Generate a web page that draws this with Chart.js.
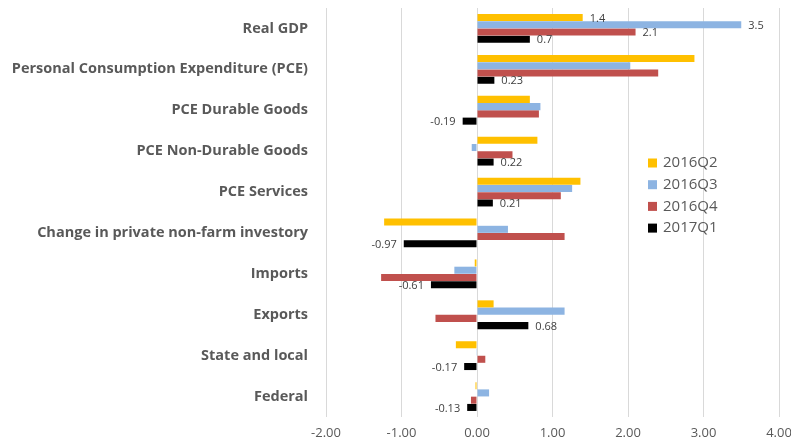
<!DOCTYPE html>
<html>
<head>
<meta charset="utf-8">
<script src="https://cdn.jsdelivr.net/npm/chart.js@4.4.1/dist/chart.umd.min.js"></script>
<style>
  html, body { margin: 0; padding: 0; background: #fff; }
  #wrap { width: 791px; height: 442px; position: relative; }
</style>
</head>
<body>
<div id="wrap"><canvas id="chart"></canvas></div>
<script>
const categories = [
  'Real GDP',
  'Personal Consumption Expenditure (PCE)',
  'PCE Durable Goods',
  'PCE Non-Durable Goods',
  'PCE Services',
  'Change in private non-farm investory',
  'Imports',
  'Exports',
  'State and local',
  'Federal'
];

const seriesNames = ['2016Q2', '2016Q3', '2016Q4', '2017Q1'];

const q2_2016 = [1.4, 2.88, 0.70, 0.80, 1.37, -1.23, -0.03, 0.22, -0.28, -0.02];
const q3_2016 = [3.5, 2.03, 0.84, -0.07, 1.26, 0.41, -0.30, 1.16, -0.01, 0.16];
const q4_2016 = [2.1, 2.40, 0.82, 0.47, 1.11, 1.16, -1.27, -0.55, 0.11, -0.08];
const q1_2017 = [0.7, 0.23, -0.19, 0.22, 0.21, -0.97, -0.61, 0.68, -0.17, -0.13];

const xTicks = [-2, -1, 0, 1, 2, 3, 4];

const colors = ['#FFC000', '#8DB4E2', '#C0504D', '#000000'];
const seriesValues = [q2_2016, q3_2016, q4_2016, q1_2017];

// value labels: every bar of the latest quarter, plus all bars of the first row
function showLabel(datasetIndex, index) {
  return datasetIndex === 3 || index === 0;
}

const valueLabels = {
  id: 'valueLabels',
  afterDatasetsDraw(chart) {
    const ctx = chart.ctx;
    ctx.save();
    ctx.font = '11px "Open Sans"';
    ctx.fillStyle = '#404040';
    ctx.textBaseline = 'middle';
    chart.data.datasets.forEach((ds, di) => {
      const meta = chart.getDatasetMeta(di);
      meta.data.forEach((bar, i) => {
        if (!showLabel(di, i)) return;
        const v = ds.data[i];
        const txt = String(v);
        if (v >= 0) {
          ctx.textAlign = 'left';
          ctx.fillText(txt, bar.x + 7, bar.y + 1);
        } else {
          ctx.textAlign = 'right';
          ctx.fillText(txt, bar.x - 7, bar.y + 1);
        }
      });
    });
    ctx.restore();
  }
};

// legend drawn inside the plot, to the right of the bars
const innerLegend = {
  id: 'innerLegend',
  afterDraw(chart) {
    const ctx = chart.ctx;
    ctx.save();
    ctx.font = '15px "Open Sans"';
    ctx.textBaseline = 'middle';
    ctx.textAlign = 'left';
    chart.data.datasets.forEach((ds, i) => {
      const y = 163 + i * 21.7;
      ctx.fillStyle = ds.backgroundColor;
      ctx.fillRect(648, y - 4.5, 9, 9);
      ctx.fillStyle = '#595959';
      ctx.fillText(ds.label, 663, y);
    });
    ctx.restore();
  }
};

function noPadding(scale) {
  scale.paddingLeft = 0;
  scale.paddingRight = 0;
  scale.paddingTop = 0;
  scale.paddingBottom = 0;
}

new Chart(document.getElementById('chart'), {
  type: 'bar',
  data: {
    labels: categories,
    datasets: seriesNames.map((name, i) => ({
      label: name,
      data: seriesValues[i],
      backgroundColor: colors[i],
      borderWidth: 0,
      categoryPercentage: 0.71,
      barPercentage: 0.97
    }))
  },
  options: {
    indexAxis: 'y',
    responsive: true,
    maintainAspectRatio: false,
    animation: false,
    layout: { padding: { top: 8, right: 12, left: 0, bottom: 0 } },
    plugins: {
      legend: { display: false },
      tooltip: { enabled: false }
    },
    scales: {
      x: {
        min: -2,
        max: 4,
        afterBuildTicks(scale) {
          scale.ticks = xTicks.map(v => ({ value: v }));
        },
        afterFit(scale) {
          scale.height = 25;
          noPadding(scale);
        },
        grid: { color: '#D9D9D9', lineWidth: 1, drawTicks: false },
        border: { display: false },
        ticks: {
          padding: 8,
          color: '#595959',
          font: { family: 'Open Sans', size: 13 },
          callback: v => Number(v).toFixed(2)
        }
      },
      y: {
        afterFit(scale) {
          scale.width = 326;
          noPadding(scale);
        },
        grid: { display: false, drawTicks: false },
        border: { display: false },
        ticks: {
          padding: 18,
          color: '#595959',
          font: { family: 'Open Sans', size: 14.5, weight: 'bold' }
        }
      }
    }
  },
  plugins: [valueLabels, innerLegend]
});
</script>
</body>
</html>
